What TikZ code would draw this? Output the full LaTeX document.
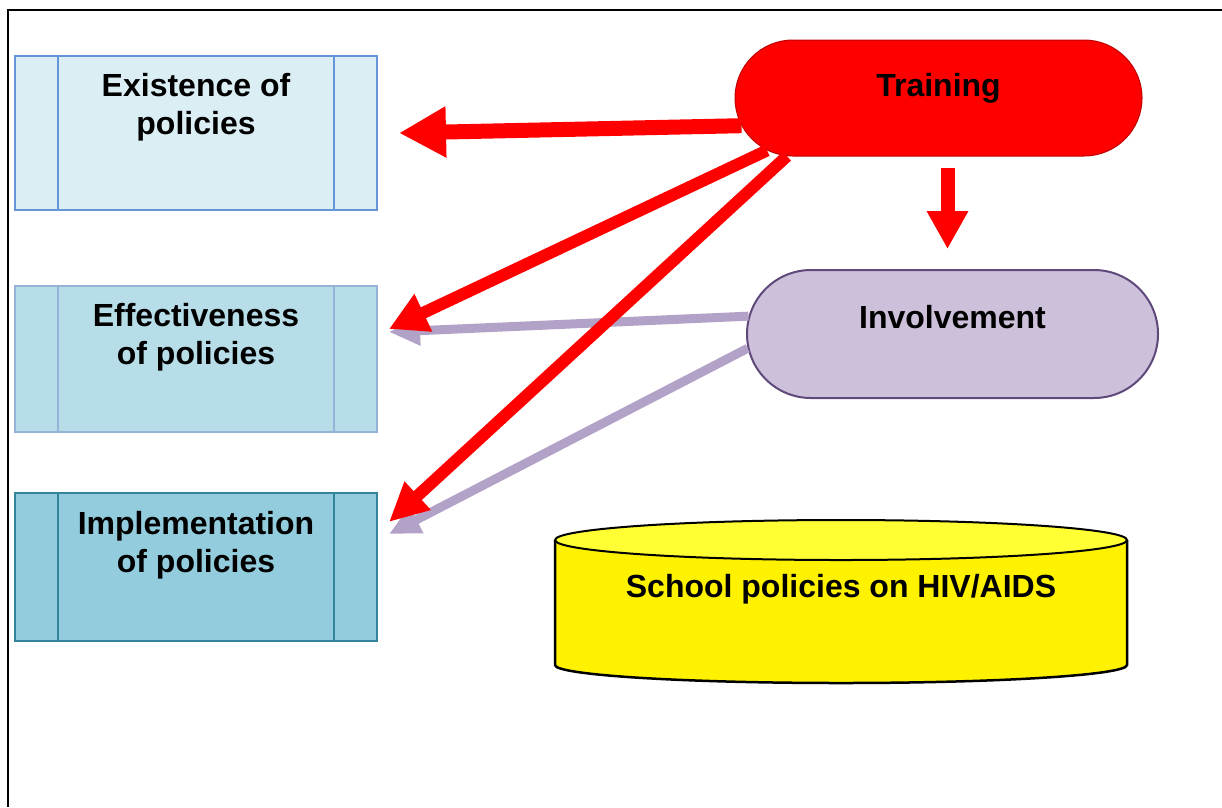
\documentclass[tikz,border=0pt]{standalone}
\usepackage{fontspec}
\setmainfont{Liberation Sans}
\usepackage{tikz}
\usetikzlibrary{positioning,arrows.meta,shapes.misc}

\definecolor{boxA}{HTML}{DBEEF4}
\definecolor{boxB}{HTML}{B7DEE8}
\definecolor{boxC}{HTML}{93CDDD}
\definecolor{bordA}{HTML}{6495D6}
\definecolor{bordB}{HTML}{95B3D7}
\definecolor{bordC}{HTML}{31849B}
\definecolor{trainred}{HTML}{FF0000}
\definecolor{trainbord}{HTML}{C00000}
\definecolor{invfill}{HTML}{CCC0DA}
\definecolor{invbord}{HTML}{5F497A}
\definecolor{invarrow}{HTML}{B3A2C7}
\definecolor{drumtop}{HTML}{FFFF33}

\begin{document}
\begin{tikzpicture}[x=1pt,y=-1pt,
  policybox/.style={draw,line width=2pt,minimum width=362pt,inner sep=0pt},
  boxtext/.style={font=\fontsize{32}{38}\selectfont\bfseries,align=center,inner sep=0pt},
  pill/.style={rounded rectangle,inner sep=0pt},
  redarrow/.style={draw=trainred,line width=12pt},
  purplearrow/.style={draw=invarrow,line width=9pt,-{Triangle[length=31pt,width=28pt]}}]
  \useasboundingbox (0,0) rectangle (1222,807);
  % frame
  \draw[line width=2.5pt] (1222,10) -- (8,10) -- (8,807);
  % policy boxes
  \node[policybox,draw=bordA,fill=boxA,minimum height=154pt] (exist) at (196,133) {};
  \node[policybox,draw=bordB,fill=boxB,minimum height=146pt] (eff) at (196,359) {};
  \node[policybox,draw=bordC,fill=boxC,minimum height=148pt] (impl) at (196,567) {};
  \foreach \b/\c in {exist/bordA,eff/bordB,impl/bordC} {
    \draw[\c,line width=2pt] ([xshift=44pt]\b.north west) -- ([xshift=44pt]\b.south west);
    \draw[\c,line width=2pt] ([xshift=-44pt]\b.north east) -- ([xshift=-44pt]\b.south east);
  }
  \node[boxtext,below=18pt of exist.north] (existT) {Existence of\\policies};
  \node[boxtext,below=18pt of eff.north] (effT) {Effectiveness\\of policies};
  \node[boxtext,below=19pt of impl.north] (implT) {Implementation\\of policies};
  % training and involvement
  \node[pill,draw=trainbord,fill=trainred,line width=1pt,minimum width=407pt,minimum height=116pt] (train) at (938.5,98) {};
  \node[pill,draw=invbord,fill=invfill,line width=2pt,minimum width=411pt,minimum height=128pt] (inv) at (952.5,334) {};
  \node[boxtext,below=34pt of train.north] (trainT) {Training};
  \node[boxtext,below=36pt of inv.north] (invT) {Involvement};
  % school policies drum
  \fill[yellow] (555,540) -- (555,665) arc[start angle=180,end angle=0,x radius=286,y radius=18] -- (1127,540) -- cycle;
  \draw[line width=2.5pt] (555,540) -- (555,665) arc[start angle=180,end angle=0,x radius=286,y radius=18] -- (1127,540);
  \draw[line width=2pt,fill=drumtop] (841,540) ellipse[x radius=286,y radius=20];
  \node[boxtext,anchor=base] (schoolT) at (841,597) {School policies on HIV/AIDS};
  % arrows from involvement
  \draw[purplearrow] (inv.175) -- ([shift={(11,47)}]eff.north east);
  \draw[purplearrow] (inv.184) -- ([shift={(11,42)}]impl.north east);
  % arrows from training
  \draw[redarrow,line width=15pt,-{Triangle[length=47pt,width=48pt]}] (train.188) -- ([xshift=21pt]exist.east);
  \draw[redarrow,-{Triangle[length=38pt,width=39pt]}] (train.197) -- ([shift={(11,44)}]eff.north east);
  \draw[redarrow,-{Triangle[length=39pt,width=36pt]}] (train.201) -- ([shift={(11,30)}]impl.north east);
  \draw[redarrow,line width=14pt,-{Triangle[length=38pt,width=39pt]}] ([shift={(9,11)}]train.south) -- ([shift={(-5,-20)}]inv.north);
\end{tikzpicture}
\end{document}
